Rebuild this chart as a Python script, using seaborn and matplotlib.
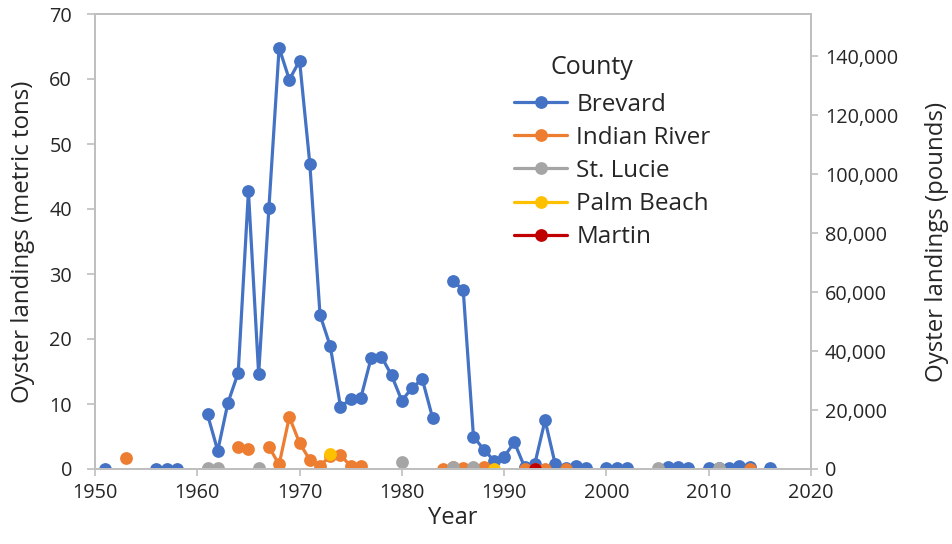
import numpy as np
import pandas as pd
import seaborn as sns
import matplotlib
matplotlib.use("Agg")
import matplotlib.pyplot as plt
from matplotlib.lines import Line2D
from matplotlib.ticker import FuncFormatter

# Annual oyster landings (metric tons) by county
brevard_years = [1951, 1956, 1957, 1958,
                 1961, 1962, 1963, 1964, 1965, 1966, 1967, 1968, 1969, 1970,
                 1971, 1972, 1973, 1974, 1975, 1976, 1977, 1978, 1979, 1980,
                 1981, 1982, 1983,
                 1985, 1986, 1987, 1988, 1989, 1990, 1991, 1992, 1993, 1994,
                 1995, 1996, 1997, 1998,
                 2000, 2001, 2002,
                 2006, 2007, 2008,
                 2010, 2011, 2012, 2013, 2014,
                 2016]
brevard_tons = [0.0, 0.0, 0.0, 0.0,
                8.4, 2.8, 10.2, 14.8, 42.7, 14.6, 40.1, 64.8, 59.9, 62.8,
                47.0, 23.7, 18.9, 9.6, 10.7, 11.0, 17.1, 17.3, 14.4, 10.5,
                12.5, 13.8, 7.9,
                29.0, 27.5, 5.0, 3.0, 1.3, 1.9, 4.1, 0.3, 0.8, 7.5,
                0.7, 0.2, 0.4, 0.1,
                0.1, 0.1, 0.1,
                0.3, 0.3, 0.1,
                0.1, 0.1, 0.2, 0.4, 0.3,
                0.1]

indian_river_years = [1953, 1961,
                      1964, 1965,
                      1967, 1968, 1969, 1970, 1971, 1972, 1973, 1974, 1975, 1976,
                      1984, 1985, 1986, 1987, 1988,
                      1992, 1993, 1994,
                      1996,
                      2014]
indian_river_tons = [1.7, 0.0,
                     3.4, 3.1,
                     3.4, 0.7, 8.0, 4.0, 1.4, 0.5, 2.0, 2.2, 0.4, 0.4,
                     0.0, 0.3, 0.2, 0.1, 0.3,
                     0.0, 0.0, 0.0,
                     0.0,
                     0.0]

st_lucie_years = [1961, 1962, 1966, 1980, 1985, 1987, 2005, 2011]
st_lucie_tons = [0.2, 0.1, 0.1, 1.1, 0.3, 0.3, 0.2, 0.1]

palm_beach_years = [1973, 1989]
palm_beach_tons = [2.3, 0.0]

martin_years = [1993]
martin_tons = [0.0]

counties = ["Brevard", "Indian River", "St. Lucie", "Palm Beach", "Martin"]
colors = ["#4472C4", "#ED7D31", "#A5A5A5", "#FFC000", "#C00000"]
series = [(brevard_years, brevard_tons), (indian_river_years, indian_river_tons),
          (st_lucie_years, st_lucie_tons), (palm_beach_years, palm_beach_tons),
          (martin_years, martin_tons)]

x_ticks = [1950, 1960, 1970, 1980, 1990, 2000, 2010, 2020]
left_ticks = [0, 10, 20, 30, 40, 50, 60, 70]
right_ticks = [0, 20000, 40000, 60000, 80000, 100000, 120000, 140000]

TONS_PER_POUND = 0.45359237 / 1000.0

frames = []
for name, (yrs, vals) in zip(counties, series):
    yrs = np.asarray(yrs)
    # a missing year breaks the line into separate runs
    seg = np.concatenate([[0], np.cumsum(np.diff(yrs) > 1)])
    frames.append(pd.DataFrame({"Year": yrs, "tons": vals,
                                "County": name, "run": seg}))
df = pd.concat(frames, ignore_index=True)

sns.set_theme(style="white")
plt.rcParams["font.family"] = ["Open Sans", "DejaVu Sans"]

fig = plt.figure(figsize=(9.53, 5.44), dpi=100)
ax = fig.add_axes([95 / 953, 1 - 469 / 544, (811 - 95) / 953, (469 - 14) / 544])

LW = 2.3
MS = 9.2
for name, col in zip(counties, colors):
    sub = df[df["County"] == name]
    sns.lineplot(data=sub, x="Year", y="tons", units="run", estimator=None,
                 color=col, linewidth=LW, marker="o", markersize=MS,
                 markeredgewidth=0, ax=ax, legend=False, sort=True)

ax.set_xlim(1950, 2020)
ax.set_ylim(0, 70)
ax.set_xticks(x_ticks)
ax.set_yticks(left_ticks)

spine_col = "#bfbfbf"
text_col = "#262626"
ax2 = ax.twinx()
ax2.set_ylim(0, 70 / TONS_PER_POUND)
ax2.set_yticks(right_ticks)
ax2.yaxis.set_major_formatter(FuncFormatter(lambda v, p: f"{int(v):,}"))

for a in (ax, ax2):
    for s in a.spines.values():
        s.set_color(spine_col)
        s.set_linewidth(1.3)
    a.tick_params(axis="both", which="both", length=5, width=1.2,
                  color=spine_col, labelsize=14.3, labelcolor=text_col, pad=5)
ax.tick_params(axis="y", left=True, right=False, length=6, pad=10.5)
ax.tick_params(axis="x", bottom=True)
ax2.tick_params(axis="y", right=True)

ax.set_xlabel("Year", fontsize=17, color=text_col, labelpad=2)
ax.set_ylabel("Oyster landings (metric tons)", fontsize=17.3, color=text_col, labelpad=10)
ax2.set_ylabel("Oyster landings (pounds)", fontsize=17.3, color=text_col, labelpad=19)

handles = [Line2D([0], [0], color=c, linewidth=LW, marker="o", markersize=MS,
                  markeredgewidth=0) for c in colors]
leg = ax.legend(handles, counties, loc="center left",
                bbox_to_anchor=(514 / 953, 1 - 171 / 544),
                bbox_transform=fig.transFigure, frameon=False, fontsize=17.5,
                handlelength=2.2, handletextpad=0.37, labelspacing=0.38,
                borderpad=0, borderaxespad=0)
for t in leg.get_texts():
    t.set_color(text_col)
fig.text(551 / 953, 1 - 68 / 544, "County", fontsize=18, color=text_col,
         ha="left", va="center")

fig.savefig("out.png", dpi=100)
